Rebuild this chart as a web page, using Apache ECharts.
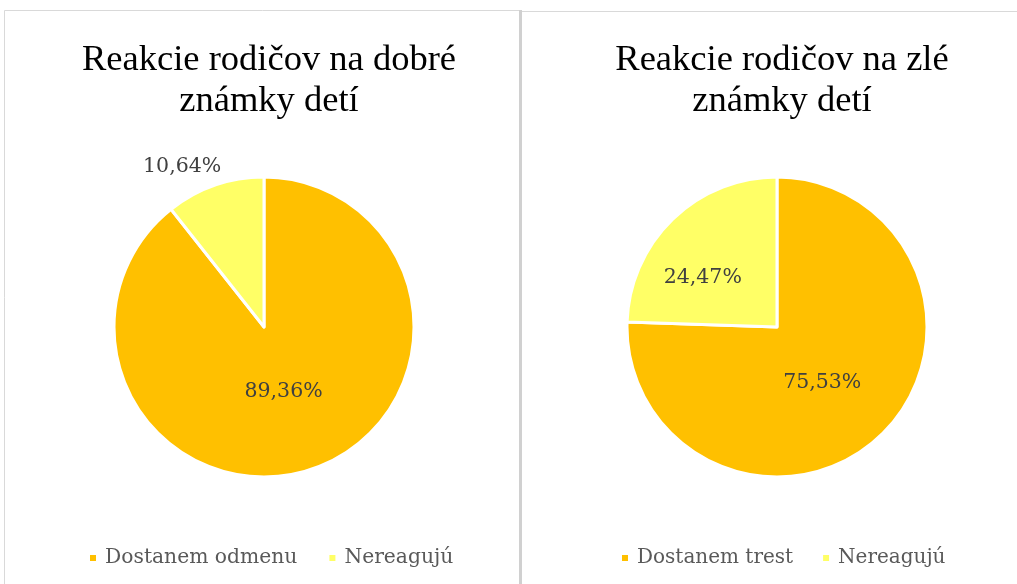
<!DOCTYPE html>
<html><head><meta charset="utf-8">
<script src="https://cdn.jsdelivr.net/npm/echarts@6/dist/echarts.min.js"></script>
<style>html,body{margin:0;padding:0;background:#fff}#c{width:1017px;height:584px}</style>
</head><body><div id="c"></div>
<script>
const titles = ['Reakcie rodičov na dobré\nznámky detí', 'Reakcie rodičov na zlé\nznámky detí'];
const catsGood = ['Dostanem odmenu', 'Nereagujú'];
const valsGood = [89.36, 10.64];
const catsBad = ['Dostanem trest', 'Nereagujú'];
const valsBad = [75.53, 24.47];
const colors = ['#FFC000', '#FFFF66'];

const chart = echarts.init(document.getElementById('c'));
const pct = v => v.toFixed(2).replace('.', ',') + '%';
const labelBase = {show: true, fontFamily: 'DejaVu Serif', fontSize: 20.5, color: '#404040',
  formatter: p => pct(p.value)};

function mkData(cats, vals, labelOpts) {
  return cats.map((c, i) => ({name: c, value: vals[i], itemStyle: {color: colors[i]}, label: labelOpts[i]}));
}

chart.setOption({
  animation: false,
  graphic: [
    {type: 'rect', shape: {x: 4.5, y: 10.5, width: 516, height: 600}, style: {fill: '#fff', stroke: '#d9d9d9', lineWidth: 1}},
    {type: 'rect', shape: {x: 521.5, y: 11.5, width: 520, height: 600}, style: {fill: '#fff', stroke: '#d9d9d9', lineWidth: 1}},
    {type: 'line', shape: {x1: 520.5, y1: 10, x2: 520.5, y2: 584}, style: {stroke: '#d0d0d0', lineWidth: 3}}
  ],
  title: [
    {text: titles[0], left: 264, top: 35, textAlign: 'center',
      textStyle: {fontFamily: 'Liberation Serif', fontSize: 36.5, fontWeight: 'normal', color: '#000', lineHeight: 41}},
    {text: titles[1], left: 777, top: 35, textAlign: 'center',
      textStyle: {fontFamily: 'Liberation Serif', fontSize: 36.5, fontWeight: 'normal', color: '#000', lineHeight: 41}}
  ],
  legend: [
    {data: catsGood, left: 83, top: 543, icon: 'rect', itemWidth: 8, itemHeight: 8, itemGap: 30,
      textStyle: {fontFamily: 'DejaVu Serif', fontSize: 20.3, color: '#595959', padding: [0, 0, 0, 3]}},
    {data: catsBad, left: 615, top: 543, icon: 'rect', itemWidth: 8, itemHeight: 8, itemGap: 28,
      textStyle: {fontFamily: 'DejaVu Serif', fontSize: 20, color: '#595959', padding: [0, 0, 0, 3]}}
  ],
  series: [
    {type: 'pie', center: [264, 327], radius: 150, startAngle: 90, clockwise: true,
      itemStyle: {borderColor: '#fff', borderWidth: 3},
      label: labelBase, labelLine: {show: false, length: 20, length2: 0},
      data: mkData(catsGood, valsGood, [
        {position: 'inside', padding: [0, 12, 0, 0], lineHeight: 18, formatter: p => pct(p.value) + '\n '},
        {position: 'outside', distanceToLabelLine: -13}
      ])},
    {type: 'pie', center: [777, 327], radius: 150, startAngle: 90, clockwise: true,
      itemStyle: {borderColor: '#fff', borderWidth: 3},
      label: labelBase, labelLine: {show: false},
      data: mkData(catsBad, valsBad, [
        {position: 'inside', padding: [0, 18, 0, 0]},
        {position: 'inside', padding: [0, 40, 0, 0], lineHeight: 14, formatter: p => ' \n' + pct(p.value)}
      ])}
  ]
});
</script></body></html>
